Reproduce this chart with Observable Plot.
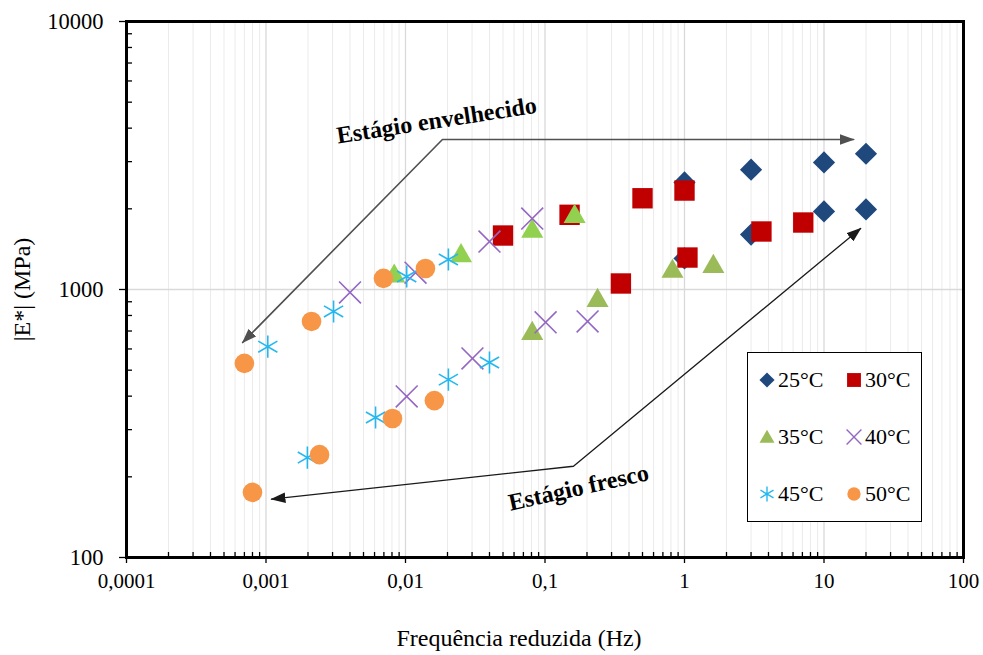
<!DOCTYPE html>
<html>
<head>
<meta charset="utf-8">
<script src="https://cdn.jsdelivr.net/npm/d3@7"></script>
<script src="https://cdn.jsdelivr.net/npm/@observablehq/plot@0.6"></script>
<style>
  body { margin: 0; background: #fff; }
  #chart { position: relative; width: 983px; height: 655px; font-family: "Liberation Serif", "Times New Roman", serif; }
  #legend { position: absolute; left: 747px; top: 352px; width: 175px; height: 170px; border: 1px solid #000; background: #fff; box-sizing: border-box; }
  .item { position: absolute; display: flex; align-items: center; font-size: 22px; color: #000; line-height: 1; }
  .item svg { overflow: visible; }
</style>
</head>
<body>
<div id="chart"></div>
<script>
// Temperatures shown in the legend
const temperatures = ["25°C", "30°C", "35°C", "40°C", "45°C", "50°C"];

// Aged binder (estágio envelhecido): reduced frequency (Hz) and |E*| (MPa)
const agedFreq25 = [1, 3, 10, 20];
const agedMod25 = [2510, 2800, 2980, 3210];
const agedFreq30 = [0.05, 0.15, 0.5, 1];
const agedMod30 = [1590, 1900, 2190, 2340];
const agedFreq35 = [0.0083, 0.025, 0.081, 0.163];
const agedMod35 = [1150, 1370, 1690, 1920];
const agedFreq40 = [0.004, 0.0118, 0.04, 0.081];
const agedMod40 = [975, 1155, 1510, 1840];
const agedFreq45 = [0.00103, 0.00305, 0.0102, 0.0203];
const agedMod45 = [612, 828, 1118, 1294];
const agedFreq50 = [0.0007, 0.00212, 0.00695, 0.0139];
const agedMod50 = [530, 760, 1100, 1198];

// Fresh binder (estágio fresco)
const freshFreq25 = [1, 3, 10, 20];
const freshMod25 = [1306, 1603, 1955, 1990];
const freshFreq30 = [0.35, 1.05, 3.56, 7.1];
const freshMod30 = [1053, 1316, 1646, 1778];
const freshFreq35 = [0.081, 0.238, 0.82, 1.61];
const freshMod35 = [703, 933, 1198, 1250];
const freshFreq40 = [0.0102, 0.0302, 0.101, 0.202];
const freshMod40 = [399, 553, 754, 760];
const freshFreq45 = [0.00198, 0.0061, 0.0203, 0.040];
const freshMod45 = [236, 333, 461, 534];
const freshFreq50 = [0.0008, 0.00242, 0.00807, 0.0161];
const freshMod50 = [175, 242, 330, 385];

// Axis ticks, tick labels and titles
const xMajor = [0.0001, 0.001, 0.01, 0.1, 1, 10, 100];
const xTickLabels = ["0,0001", "0,001", "0,01", "0,1", "1", "10", "100"];
const yMajor = [100, 1000, 10000];
const yTickLabels = ["100", "1000", "10000"];
const xTitle = "Frequência reduzida (Hz)";
const yTitle = "|E*| (MPa)";

// Annotation arrows (end, bend, end) and captions
const agedArrowFreq = [16.3, 0.0184, 0.00068];
const agedArrowMod = [3630, 3630, 634];
const freshArrowFreq = [0.001095, 0.16, 18.3];
const freshArrowMod = [165, 219, 1690];
const captions = ["Estágio envelhecido", "Estágio fresco"];
const captionFreq = [0.0167, 0.174];
const captionMod = [4270, 182];

// Series styling
const series = [
  {name: temperatures[0], symbol: "diamond2", color: "#1F497D", freshColor: "#1F497D", r: 10, filled: true, aged: [agedFreq25, agedMod25], fresh: [freshFreq25, freshMod25]},
  {name: temperatures[1], symbol: "square", color: "#C00000", freshColor: "#C00000", r: 11.5, filled: true, aged: [agedFreq30, agedMod30], fresh: [freshFreq30, freshMod30]},
  {name: temperatures[2], symbol: "triangle", color: "#92D050", freshColor: "#9BBB59", r: 8.2, filled: true, dy: 3, aged: [agedFreq35, agedMod35], fresh: [freshFreq35, freshMod35]},
  {name: temperatures[3], symbol: "times", color: "#9467C4", freshColor: "#9467C4", r: 10, filled: false, aged: [agedFreq40, agedMod40], fresh: [freshFreq40, freshMod40]},
  {name: temperatures[4], symbol: "asterisk", color: "#25B8F0", freshColor: "#25B8F0", r: 10.5, filled: false, aged: [agedFreq45, agedMod45], fresh: [freshFreq45, freshMod45]},
  {name: temperatures[5], symbol: "circle", color: "#F79646", freshColor: "#F79646", r: 9.8, filled: true, aged: [agedFreq50, agedMod50], fresh: [freshFreq50, freshMod50]}
];

const rows = (fs, es) => fs.map((f, i) => ({f, e: es[i]}));

// Minor decade ticks (2..9 × 10^k)
const xMinor = [];
for (let k = -4; k < 2; k++) for (let m = 2; m <= 9; m++) xMinor.push(m * 10 ** k);
const yMinor = [];
for (let k = 2; k < 4; k++) for (let m = 2; m <= 9; m++) yMinor.push(m * 10 ** k);

const xLabelOf = new Map(xMajor.map((d, i) => [d, xTickLabels[i]]));
const yLabelOf = new Map(yMajor.map((d, i) => [d, yTickLabels[i]]));

const pointMarks = [];
for (const s of series) {
  for (const [stage, col] of [["aged", s.color], ["fresh", s.freshColor]]) {
    const data = rows(s[stage][0], s[stage][1]);
    pointMarks.push(Plot.dot(data, {
      x: "f", y: "e", symbol: s.symbol, r: s.r, dy: s.dy || 0,
      fill: s.filled ? col : "none",
      stroke: s.filled ? "none" : col,
      strokeWidth: s.filled ? 0 : 1.6
    }));
  }
}

const plot = Plot.plot({
  width: 983,
  height: 655,
  marginLeft: 126,
  marginRight: 20,
  marginTop: 21,
  marginBottom: 98,
  style: {fontFamily: "'Liberation Serif', 'Times New Roman', serif", fontSize: "21px", color: "#000", background: "#fff"},
  x: {type: "log", domain: [0.0001, 100]},
  y: {type: "log", domain: [100, 10000]},
  marks: [
    Plot.gridX(xMinor, {stroke: "#ebebeb", strokeOpacity: 1, strokeWidth: 1}),
    Plot.gridX(xMajor, {stroke: "#d9d9d9", strokeOpacity: 1, strokeWidth: 1.3}),
    Plot.gridY([1000], {stroke: "#d9d9d9", strokeOpacity: 1, strokeWidth: 1.3}),
    Plot.line(rows(agedArrowFreq, agedArrowMod), {x: "f", y: "e", stroke: "#505050", strokeWidth: 1.6, className: "arrow-aged"}),
    Plot.line(rows(freshArrowFreq, freshArrowMod), {x: "f", y: "e", stroke: "#1a1a1a", strokeWidth: 1.3, className: "arrow-fresh"}),
    ...pointMarks,
    Plot.text(captions, {
      x: (d, i) => captionFreq[i], y: (d, i) => captionMod[i], text: d => d,
      rotate: (d, i) => i === 0 ? -8.8 : -12.5,
      fontWeight: "bold", fontSize: 24, fill: "#000"
    }),
    Plot.frame({stroke: "#000", strokeWidth: 3}),
    Plot.axisX(xMinor, {tickSize: -5, tickFormat: () => "", strokeWidth: 1.3, label: null}),
    Plot.axisX(xMajor, {tickSize: 6, tickPadding: 10, strokeWidth: 1.3, fontSize: 21, tickFormat: d => xLabelOf.get(d), label: null}),
    Plot.axisY(yMinor, {tickSize: -6, tickFormat: () => "", strokeWidth: 1.3, label: null}),
    Plot.axisY(yMajor, {tickSize: 7, tickPadding: 16, strokeWidth: 1.3, fontSize: 22.5, tickFormat: d => yLabelOf.get(d), label: null}),
    // Axis titles
    Plot.text([xTitle], {frameAnchor: "bottom", dy: 81, dx: -26, lineAnchor: "middle", textAnchor: "middle", fontSize: 24, fill: "#000"}),
    Plot.text([yTitle], {frameAnchor: "left", dx: -104, rotate: -90, lineAnchor: "middle", textAnchor: "middle", fontSize: 24, fill: "#000"})
  ]
});

const chart = document.getElementById("chart");
chart.appendChild(plot);

// Filled arrowheads on both ends of the annotation lines
const svg = d3.select(plot);
const defs = svg.append("defs");
for (const [id, color] of [["head-aged", "#505050"], ["head-fresh", "#1a1a1a"]]) {
  defs.append("marker")
    .attr("id", id).attr("viewBox", "0 0 14 10").attr("refX", 13).attr("refY", 5)
    .attr("markerUnits", "userSpaceOnUse").attr("markerWidth", 15).attr("markerHeight", 11)
    .attr("orient", "auto-start-reverse")
    .append("path").attr("d", "M0,0L14,5L0,10Z").attr("fill", color);
}
svg.selectAll(".arrow-aged path").attr("marker-start", "url(#head-aged)").attr("marker-end", "url(#head-aged)");
svg.selectAll(".arrow-fresh path").attr("marker-start", "url(#head-fresh)").attr("marker-end", "url(#head-fresh)");

// Legend box inside the plot area
const legend = document.createElement("div");
legend.id = "legend";
chart.appendChild(legend);
const legendPos = [[19, 28], [106, 28], [19, 85], [106, 85], [19, 142], [106, 142]];
series.forEach((s, i) => {
  const item = document.createElement("div");
  item.className = "item";
  item.style.left = (legendPos[i][0] - 8) + "px";
  item.style.top = (legendPos[i][1] - 12) + "px";
  const sym = d3.create("svg").attr("width", 16).attr("height", 16);
  const symbolType = {diamond2: d3.symbolDiamond2, square: d3.symbolSquare, triangle: d3.symbolTriangle,
    times: d3.symbolTimes, asterisk: d3.symbolAsterisk, circle: d3.symbolCircle}[s.symbol];
  const rr = s.r * 0.68;
  sym.append("path")
    .attr("transform", `translate(8,${s.symbol === "triangle" ? 9.5 : 8})`)
    .attr("d", d3.symbol(symbolType, Math.PI * rr * rr)())
    .attr("fill", s.filled ? s.freshColor : "none")
    .attr("stroke", s.filled ? "none" : s.color)
    .attr("stroke-width", 1.4);
  item.appendChild(sym.node());
  const label = document.createElement("span");
  label.textContent = s.name;
  label.style.marginLeft = "3px";
  item.appendChild(label);
  legend.appendChild(item);
});
</script>
</body>
</html>
